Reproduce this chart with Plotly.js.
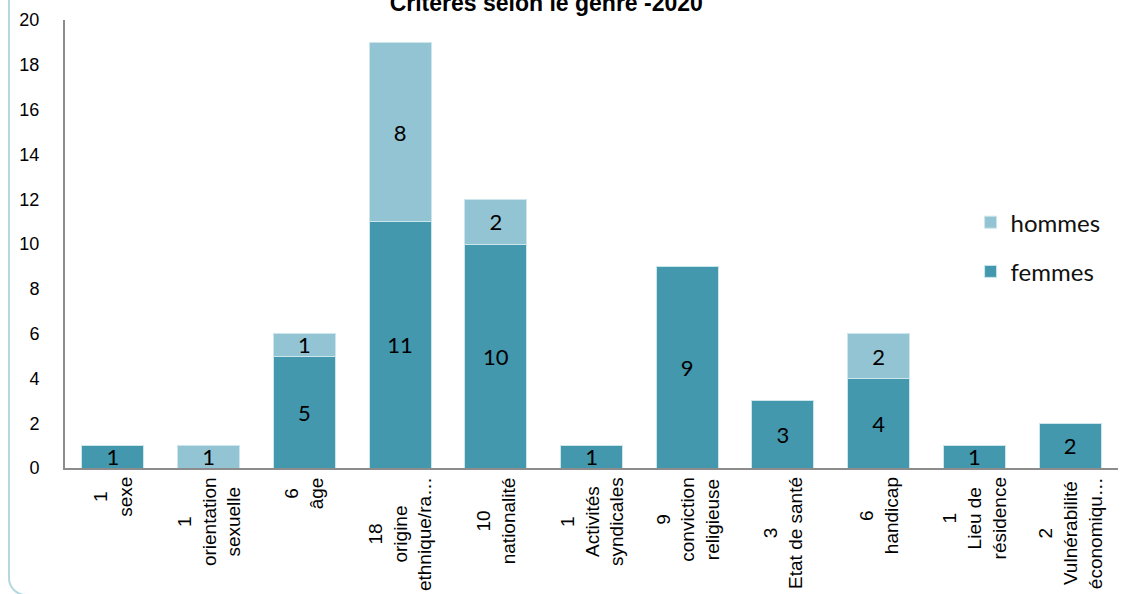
<!DOCTYPE html>
<html>
<head>
<meta charset="utf-8">
<script src="https://cdn.plot.ly/plotly-3.0.1.min.js"></script>
<style>
  html, body { margin: 0; padding: 0; background: #fff; overflow: hidden; }
  #wrap { position: relative; width: 1124px; height: 594px; }
  #frame { position: absolute; left: 8px; top: -30px; width: 1200px; height: 626px;
           border: 2px solid #b4d8de; border-radius: 18px; box-sizing: border-box; }
  #chart { position: absolute; left: 0; top: 0; width: 1124px; height: 594px; }
</style>
</head>
<body>
<div id="wrap">
  <div id="frame"></div>
  <div id="chart"></div>
</div>
<script>
const categories = [
  "1<br>sexe",
  "1<br>orientation<br>sexuelle",
  "6<br>âge",
  "18<br>origine<br>ethnique/ra…",
  "10<br>nationalité",
  "1<br>Activités<br>syndicales",
  "9<br>conviction<br>religieuse",
  "3<br>Etat de santé",
  "6<br>handicap",
  "1<br>Lieu de<br>résidence",
  "2<br>Vulnérabilité<br>économiqu…"
];
const femmes = [1, 0, 5, 11, 10, 1, 9, 3, 4, 1, 2];
const hommes = [0, 1, 1, 8, 2, 0, 0, 0, 2, 0, 0];
const yTicks = [0, 2, 4, 6, 8, 10, 12, 14, 16, 18, 20];

const arial = "'Liberation Sans', Arial, sans-serif";
const labelFont = {family: "Lato, 'Open Sans', sans-serif", size: 22, color: "#000"};
const toText = arr => arr.map(v => v > 0 ? String(v) : "");

const traces = [
  {
    type: "bar", name: "femmes", x: categories, y: femmes,
    text: toText(femmes), textposition: "inside", insidetextanchor: "middle",
    textangle: 0, constraintext: "none", textfont: labelFont,
    marker: {color: "#4398ae", line: {color: "#cde6ec", width: 1}},
    legendgroup: "f", legendrank: 2, hoverinfo: "skip"
  },
  {
    type: "bar", name: "hommes", x: categories, y: hommes,
    text: toText(hommes), textposition: "inside", insidetextanchor: "middle",
    textangle: 0, constraintext: "none", textfont: labelFont,
    marker: {color: "#93c4d4", line: {color: "#cde6ec", width: 1}},
    legendgroup: "h", legendrank: 1, hoverinfo: "skip"
  }
];

// category labels drawn as rotated, centre-aligned annotations on the category axis
const tickLabels = categories.map(c => ({
  x: c, xref: "x", y: 0, yref: "paper",
  text: c, showarrow: false, textangle: -90, align: "center",
  xanchor: "center", yanchor: "top", yshift: -7,
  font: {family: arial, size: 19, color: "#000"}
}));

const layout = {
  width: 1124, height: 594,
  paper_bgcolor: "rgba(0,0,0,0)", plot_bgcolor: "rgba(0,0,0,0)",
  margin: {l: 65, r: 6, t: 20, b: 126},
  barmode: "stack", bargap: 0.352,
  showlegend: true,
  title: {
    text: "<b>Critères selon le genre -2020</b>",
    font: {family: arial, size: 23, color: "#000"},
    xref: "container", yref: "container", x: 0.486, xanchor: "center",
    y: 0.982, yanchor: "bottom"
  },
  xaxis: {
    type: "category", showgrid: false, zeroline: false, showticklabels: false,
    showline: true, linecolor: "#8c8c8c", linewidth: 2, ticks: ""
  },
  yaxis: {
    range: [0, 20], tickvals: yTicks, showgrid: false, zeroline: false,
    showline: true, linecolor: "#8c8c8c", linewidth: 2, ticks: "",
    tickfont: {family: arial, size: 18, color: "#000"},
    ticklabelstandoff: 20
  },
  legend: {
    x: 0.86, y: 0.598, xanchor: "left", yanchor: "top",
    traceorder: "grouped", tracegroupgap: 15,
    font: {family: "Lato, 'Open Sans', sans-serif", size: 24, color: "#111"},
    bgcolor: "rgba(0,0,0,0)"
  },
  annotations: tickLabels
};

Plotly.newPlot("chart", traces, layout, {displayModeBar: false, staticPlot: true});
</script>
</body>
</html>
